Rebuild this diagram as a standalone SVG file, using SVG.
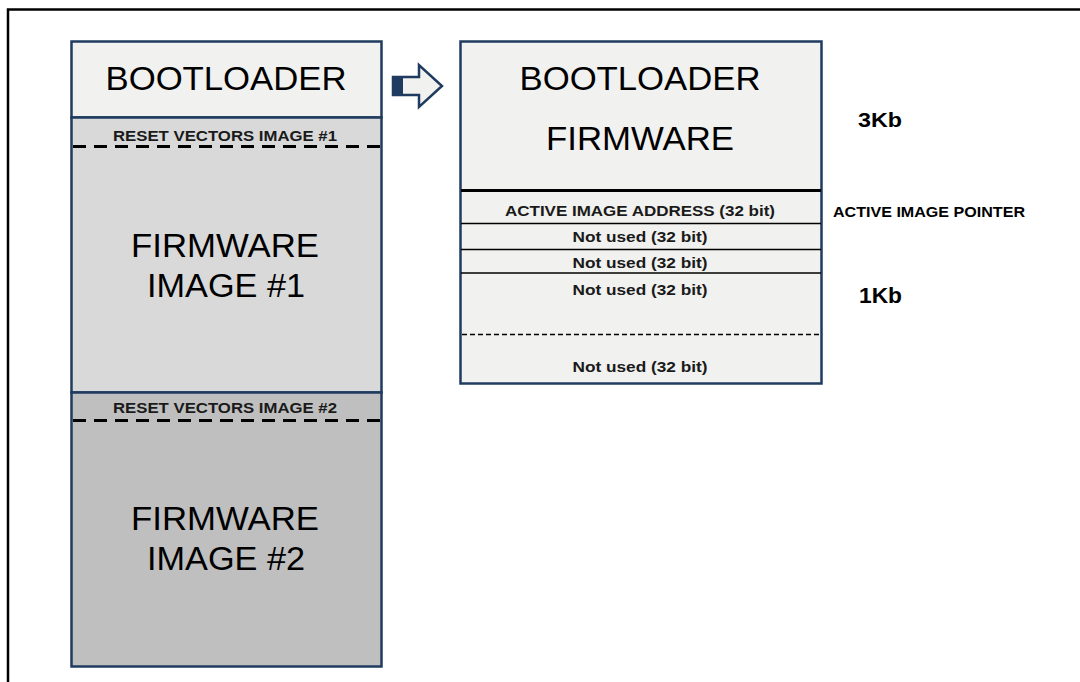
<svg xmlns="http://www.w3.org/2000/svg" width="1080" height="682" viewBox="0 0 1080 682">
<style>
.box{stroke:#1f3b5f;stroke-width:2.5}
.big{font-family:"Liberation Sans",Arial,sans-serif;font-size:33px;fill:#000;text-anchor:middle}
.sm{font-family:"Liberation Sans",Arial,sans-serif;font-weight:bold;font-size:15px;fill:#1a1a1a;text-anchor:middle}
.lbl{font-family:"Liberation Sans",Arial,sans-serif;font-weight:bold;fill:#000}
.dashL{stroke:#000;stroke-width:3;stroke-dasharray:13 8;fill:none}
.dashR{stroke:#000;stroke-width:1.5;stroke-dasharray:5 3;fill:none}
.row{stroke:#000;stroke-width:1.5}
</style>
<rect width="1080" height="682" fill="#fff"/>
<path d="M8,682 V9.5 H1080" fill="none" stroke="#000" stroke-width="2.5"/>

<g id="left-memory">
  <rect class="box" x="71.5" y="41.5" width="310" height="76" fill="#f1f1ef"/>
  <text class="big" x="226" y="90" textLength="241" lengthAdjust="spacingAndGlyphs">BOOTLOADER</text>
  <rect class="box" x="71.5" y="117.5" width="310" height="275" fill="#d9d9d9"/>
  <text class="sm" x="225" y="141" font-size="16" textLength="224" lengthAdjust="spacingAndGlyphs">RESET VECTORS IMAGE #1</text>
  <line class="dashL" x1="73" y1="146.5" x2="380" y2="146.5"/>
  <text class="big" x="225" y="257" textLength="188" lengthAdjust="spacingAndGlyphs">FIRMWARE</text>
  <text class="big" x="226" y="297" textLength="158" lengthAdjust="spacingAndGlyphs">IMAGE #1</text>
  <rect class="box" x="71.5" y="392.5" width="310" height="274" fill="#bfbfbf"/>
  <text class="sm" x="225" y="413" font-size="16" textLength="224" lengthAdjust="spacingAndGlyphs">RESET VECTORS IMAGE #2</text>
  <line class="dashL" x1="73" y1="420.5" x2="380" y2="420.5"/>
  <text class="big" x="225" y="530" textLength="188" lengthAdjust="spacingAndGlyphs">FIRMWARE</text>
  <text class="big" x="226" y="570" textLength="158" lengthAdjust="spacingAndGlyphs">IMAGE #2</text>
</g>

<g id="connectors">
  <polygon points="393,77 419,77 419,65 442,86 419,107 419,95 393,95" fill="#f1f1ef" stroke="#1f3b5f" stroke-width="2.5" stroke-linejoin="miter"/>
  <rect x="393" y="77" width="10" height="18" fill="#1f3b5f"/>
</g>

<g id="right-memory">
  <rect class="box" x="460.5" y="41.5" width="361" height="342" fill="#f1f1ef"/>
  <text class="big" x="640" y="90" textLength="241" lengthAdjust="spacingAndGlyphs">BOOTLOADER</text>
  <text class="big" x="640" y="150" textLength="188" lengthAdjust="spacingAndGlyphs">FIRMWARE</text>
  <line x1="461" y1="190.5" x2="821" y2="190.5" stroke="#000" stroke-width="3"/>
  <text class="sm" x="640" y="216" textLength="270" lengthAdjust="spacingAndGlyphs">ACTIVE IMAGE ADDRESS (32 bit)</text>
  <line class="row" x1="461" y1="223.5" x2="821" y2="223.5"/>
  <text class="sm" x="640" y="242" textLength="135" lengthAdjust="spacingAndGlyphs">Not used (32 bit)</text>
  <line class="row" x1="461" y1="249.5" x2="821" y2="249.5"/>
  <text class="sm" x="640" y="268" textLength="135" lengthAdjust="spacingAndGlyphs">Not used (32 bit)</text>
  <line class="row" x1="461" y1="273" x2="821" y2="273"/>
  <text class="sm" x="640" y="295" textLength="135" lengthAdjust="spacingAndGlyphs">Not used (32 bit)</text>
  <line class="dashR" x1="462" y1="334.5" x2="820" y2="334.5"/>
  <text class="sm" x="640" y="372" textLength="135" lengthAdjust="spacingAndGlyphs">Not used (32 bit)</text>
</g>

<g id="labels">
  <text class="lbl" x="858" y="127" font-size="21" textLength="44" lengthAdjust="spacingAndGlyphs">3Kb</text>
  <text class="lbl" x="833" y="217" font-size="15" textLength="192" lengthAdjust="spacingAndGlyphs">ACTIVE IMAGE POINTER</text>
  <text class="lbl" x="859" y="303" font-size="22" textLength="43" lengthAdjust="spacingAndGlyphs">1Kb</text>
</g>
</svg>
